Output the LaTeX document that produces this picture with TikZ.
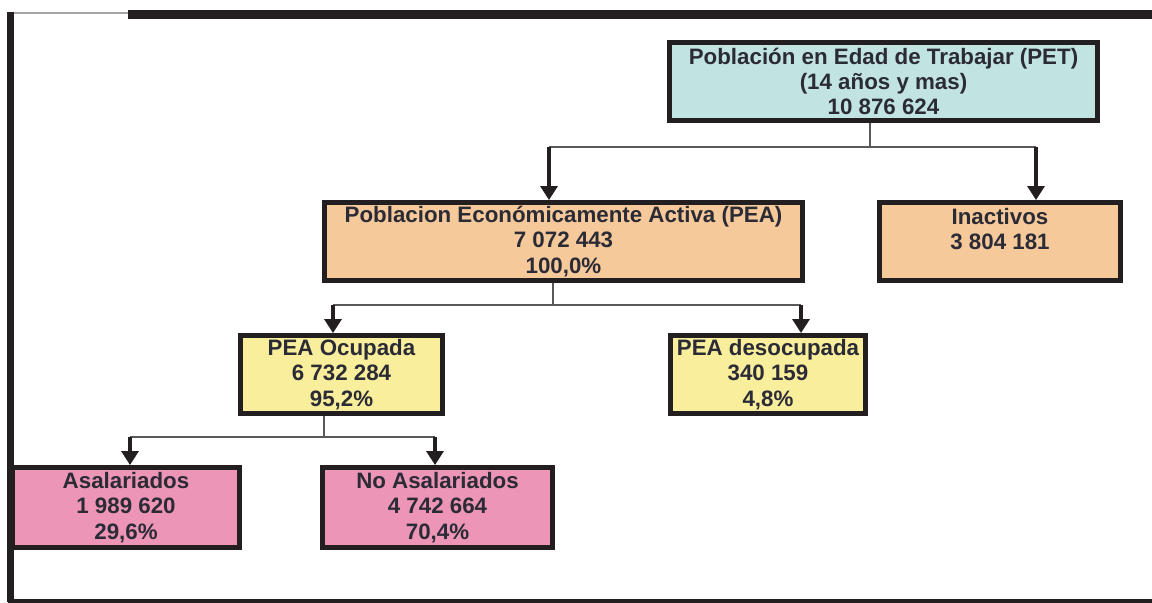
\documentclass[tikz,border=0pt]{standalone}
\usepackage{fontspec}
\setmainfont{Liberation Sans}
\usetikzlibrary{arrows.meta, positioning}
\definecolor{framecol}{HTML}{231F20}
\definecolor{txtcol}{HTML}{2B2B36}
\definecolor{petfill}{HTML}{C2E4E1}
\definecolor{peafill}{HTML}{F6C99B}
\definecolor{ocufill}{HTML}{F9EE9C}
\definecolor{asafill}{HTML}{EC95B6}

\begin{document}
\begin{tikzpicture}[x=0.02cm, y=-0.02cm,
    box/.style = {draw=framecol, line width=2.8pt, text=txtcol, align=center,
      font=\bfseries\fontsize{12.7}{14.4}\selectfont, inner sep=0pt, minimum height=1.56cm},
    stem/.style = {draw=black!65, line width=0.8pt},
    drop/.style = {draw=framecol, line width=1.8pt, -{Triangle[width=0.34cm, length=0.28cm]}}]
      \useasboundingbox (0,0) rectangle (1152,602);

      % outer frame
      \draw[black!35, line width=0.6pt] (10,13) -- (128,13);
      \draw[framecol, line width=0.18cm] (128,14) -- (1152,14);
      \draw[framecol, line width=0.13cm] (10.5,12) -- (10.5,602);
      \draw[framecol, line width=0.1cm] (8,601) -- (1152,601);

      \node[box, fill=petfill, minimum width=8.56cm] (pet) at (883.5,81.5)
        {Población en Edad de Trabajar (PET)\\(14 años y mas)\\10 876 624};
      \node[box, fill=peafill, minimum width=9.56cm] (pea) at (563.5,241.5)
        {Poblacion Económicamente Activa (PEA)\\7 072 443\\100,0\%};
      \node[box, fill=peafill, minimum width=4.82cm] (inact) at (1000,241.5)
        {Inactivos\\3 804 181\\\mbox{}};
      \node[box, fill=ocufill, minimum width=4.04cm] (ocup) at (341.5,374.5)
        {PEA Ocupada\\6 732 284\\95,2\%};
      \node[box, fill=ocufill, minimum width=3.9cm] (desoc) at (768,374.5)
        {PEA desocupada\\340 159\\4,8\%};
      \node[box, fill=asafill, minimum width=4.54cm, minimum height=1.6cm] (asal) at (126,507.5)
        {Asalariados\\1 989 620\\29,6\%};
      \node[box, fill=asafill, minimum width=4.6cm, minimum height=1.6cm] (noasal) at (437.5,507.5)
        {No Asalariados\\4 742 664\\70,4\%};

      % junctions
      \coordinate (j1) at (870,147);
      \coordinate (a1) at (549,147);
      \coordinate (a2) at (1036,147);
      \coordinate (j2) at (553,305);
      \coordinate (b1) at (333,305);
      \coordinate (b2) at (801,305);
      \coordinate (j3) at (324,437);
      \coordinate (c1) at (130,437);
      \coordinate (c2) at (435,437);

      \draw[stem] (pet.south -| j1) -- (j1);
      \draw[stem] (a1) -- (a2);
      \draw[drop] (a1) -- (pea.north -| a1);
      \draw[drop] (a2) -- (inact.north -| a2);

      \draw[stem] (pea.south -| j2) -- (j2);
      \draw[stem] (b1) -- (b2);
      \draw[drop] (b1) -- (ocup.north -| b1);
      \draw[drop] (b2) -- (desoc.north -| b2);

      \draw[stem] (ocup.south -| j3) -- (j3);
      \draw[stem] (c1) -- (c2);
      \draw[drop] (c1) -- (asal.north -| c1);
      \draw[drop] (c2) -- (noasal.north -| c2);
\end{tikzpicture}
\end{document}
